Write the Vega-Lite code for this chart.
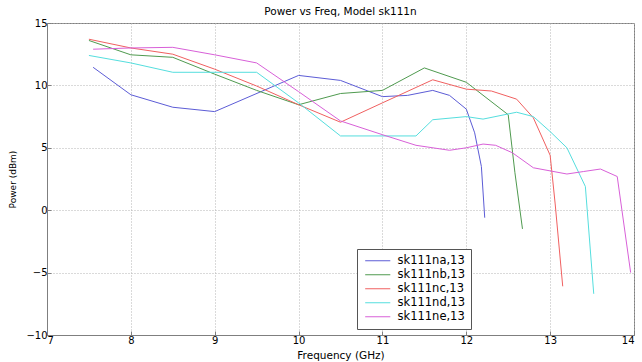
{
  "$schema": "https://vega.github.io/schema/vega-lite/v6.json",
  "autosize": {"type": "none"},
  "width": 587,
  "height": 312,
  "padding": {"left": 47, "top": 23, "right": 8, "bottom": 27},
  "background": "white",
  "config": {
    "font": "DejaVu Sans",
    "view": {"stroke": "#7f7f7f", "strokeWidth": 1},
    "axis": {
      "labelFont": "DejaVu Sans",
      "titleFont": "DejaVu Sans",
      "labelFontSize": 10,
      "titleFontSize": 10.5,
      "titleFontWeight": "normal",
      "labelColor": "#000",
      "titleColor": "#000",
      "domainColor": "#7f7f7f",
      "tickColor": "#7f7f7f",
      "tickSize": -4,
      "gridColor": "#b4b4b4",
      "gridDash": [1, 2],
      "gridWidth": 1
    },
    "title": {"font": "DejaVu Sans", "fontSize": 10.5, "fontWeight": "normal", "color": "#000", "offset": 0}
  },
  "title": {"text": "Power vs Freq, Model sk111n", "dy": 3},
  "data": {
    "values": [
      {"s": "sk111na,13", "f": 7.55, "p": 11.45},
      {"s": "sk111na,13", "f": 8.0, "p": 9.25},
      {"s": "sk111na,13", "f": 8.5, "p": 8.25},
      {"s": "sk111na,13", "f": 9.0, "p": 7.9},
      {"s": "sk111na,13", "f": 10.0, "p": 10.8},
      {"s": "sk111na,13", "f": 10.5, "p": 10.4},
      {"s": "sk111na,13", "f": 11.0, "p": 9.1},
      {"s": "sk111na,13", "f": 11.3, "p": 9.2},
      {"s": "sk111na,13", "f": 11.6, "p": 9.6},
      {"s": "sk111na,13", "f": 11.8, "p": 9.2},
      {"s": "sk111na,13", "f": 12.0, "p": 8.1},
      {"s": "sk111na,13", "f": 12.1, "p": 6.2},
      {"s": "sk111na,13", "f": 12.18, "p": 3.5},
      {"s": "sk111na,13", "f": 12.22, "p": -0.6},

      {"s": "sk111nb,13", "f": 7.5, "p": 13.6},
      {"s": "sk111nb,13", "f": 8.0, "p": 12.45},
      {"s": "sk111nb,13", "f": 8.5, "p": 12.25},
      {"s": "sk111nb,13", "f": 9.0, "p": 10.9},
      {"s": "sk111nb,13", "f": 9.5, "p": 9.6},
      {"s": "sk111nb,13", "f": 10.0, "p": 8.45},
      {"s": "sk111nb,13", "f": 10.5, "p": 9.35},
      {"s": "sk111nb,13", "f": 11.0, "p": 9.6},
      {"s": "sk111nb,13", "f": 11.5, "p": 11.4},
      {"s": "sk111nb,13", "f": 12.0, "p": 10.25},
      {"s": "sk111nb,13", "f": 12.5, "p": 7.65},
      {"s": "sk111nb,13", "f": 12.58, "p": 3.0},
      {"s": "sk111nb,13", "f": 12.67, "p": -1.5},

      {"s": "sk111nc,13", "f": 7.5, "p": 13.7},
      {"s": "sk111nc,13", "f": 8.0, "p": 13.0},
      {"s": "sk111nc,13", "f": 8.5, "p": 12.5},
      {"s": "sk111nc,13", "f": 9.0, "p": 11.3},
      {"s": "sk111nc,13", "f": 9.5, "p": 9.95},
      {"s": "sk111nc,13", "f": 10.0, "p": 8.45},
      {"s": "sk111nc,13", "f": 10.5, "p": 7.05},
      {"s": "sk111nc,13", "f": 11.0, "p": 8.6},
      {"s": "sk111nc,13", "f": 11.6, "p": 10.45},
      {"s": "sk111nc,13", "f": 12.0, "p": 9.7},
      {"s": "sk111nc,13", "f": 12.3, "p": 9.55},
      {"s": "sk111nc,13", "f": 12.6, "p": 8.9},
      {"s": "sk111nc,13", "f": 12.8, "p": 7.4},
      {"s": "sk111nc,13", "f": 13.0, "p": 4.4},
      {"s": "sk111nc,13", "f": 13.06, "p": 0.5},
      {"s": "sk111nc,13", "f": 13.15, "p": -6.1},

      {"s": "sk111nd,13", "f": 7.5, "p": 12.4},
      {"s": "sk111nd,13", "f": 8.0, "p": 11.8},
      {"s": "sk111nd,13", "f": 8.5, "p": 11.05},
      {"s": "sk111nd,13", "f": 9.5, "p": 11.05},
      {"s": "sk111nd,13", "f": 10.0, "p": 8.6},
      {"s": "sk111nd,13", "f": 10.5, "p": 5.95},
      {"s": "sk111nd,13", "f": 11.4, "p": 5.95},
      {"s": "sk111nd,13", "f": 11.6, "p": 7.25},
      {"s": "sk111nd,13", "f": 12.0, "p": 7.5},
      {"s": "sk111nd,13", "f": 12.2, "p": 7.3},
      {"s": "sk111nd,13", "f": 12.6, "p": 7.85},
      {"s": "sk111nd,13", "f": 12.8, "p": 7.5},
      {"s": "sk111nd,13", "f": 13.0, "p": 6.3},
      {"s": "sk111nd,13", "f": 13.2, "p": 5.0},
      {"s": "sk111nd,13", "f": 13.42, "p": 1.9},
      {"s": "sk111nd,13", "f": 13.52, "p": -6.7},

      {"s": "sk111ne,13", "f": 7.55, "p": 12.9},
      {"s": "sk111ne,13", "f": 8.0, "p": 13.0},
      {"s": "sk111ne,13", "f": 8.5, "p": 13.05},
      {"s": "sk111ne,13", "f": 9.0, "p": 12.45},
      {"s": "sk111ne,13", "f": 9.5, "p": 11.8},
      {"s": "sk111ne,13", "f": 10.0, "p": 9.5},
      {"s": "sk111ne,13", "f": 10.5, "p": 7.15},
      {"s": "sk111ne,13", "f": 11.0, "p": 6.05},
      {"s": "sk111ne,13", "f": 11.4, "p": 5.2},
      {"s": "sk111ne,13", "f": 11.8, "p": 4.8},
      {"s": "sk111ne,13", "f": 12.0, "p": 5.0},
      {"s": "sk111ne,13", "f": 12.2, "p": 5.3},
      {"s": "sk111ne,13", "f": 12.35, "p": 5.2},
      {"s": "sk111ne,13", "f": 12.55, "p": 4.6},
      {"s": "sk111ne,13", "f": 12.8, "p": 3.4},
      {"s": "sk111ne,13", "f": 13.2, "p": 2.9},
      {"s": "sk111ne,13", "f": 13.4, "p": 3.1},
      {"s": "sk111ne,13", "f": 13.6, "p": 3.3},
      {"s": "sk111ne,13", "f": 13.8, "p": 2.7},
      {"s": "sk111ne,13", "f": 13.96, "p": -5.0}
    ]
  },
  "mark": {"type": "line", "strokeWidth": 1, "clip": true},
  "encoding": {
    "x": {
      "field": "f", "type": "quantitative",
      "scale": {"domain": [7, 14], "nice": false, "zero": false},
      "axis": {"title": "Frequency (GHz)", "values": [7, 8, 9, 10, 11, 12, 13, 14], "labelPadding": 4, "titlePadding": 5}
    },
    "y": {
      "field": "p", "type": "quantitative",
      "scale": {"domain": [-10, 15], "nice": false, "zero": false},
      "axis": {"title": "Power (dBm)", "values": [-10, -5, 0, 5, 10, 15], "labelPadding": 4, "titlePadding": 8, "titleFontSize": 9}
    },
    "color": {
      "field": "s", "type": "nominal",
      "scale": {
        "domain": ["sk111na,13", "sk111nb,13", "sk111nc,13", "sk111nd,13", "sk111ne,13"],
        "range": ["#5c5cd6", "#4f9a4f", "#f06060", "#55dede", "#d860d8"]
      },
      "legend": {
        "title": null,
        "orient": "none",
        "legendX": 310,
        "legendY": 226,
        "symbolType": "M-3,0H3",
        "symbolSize": 70,
        "symbolStrokeWidth": 1,
        "symbolOffset": 9,
        "labelFontSize": 11.5,
        "labelFont": "DejaVu Sans",
        "labelColor": "#000",
        "labelOffset": 14,
        "rowPadding": 1,
        "strokeColor": "#555",
        "fillColor": "white",
        "padding": 6
      }
    }
  }
}
